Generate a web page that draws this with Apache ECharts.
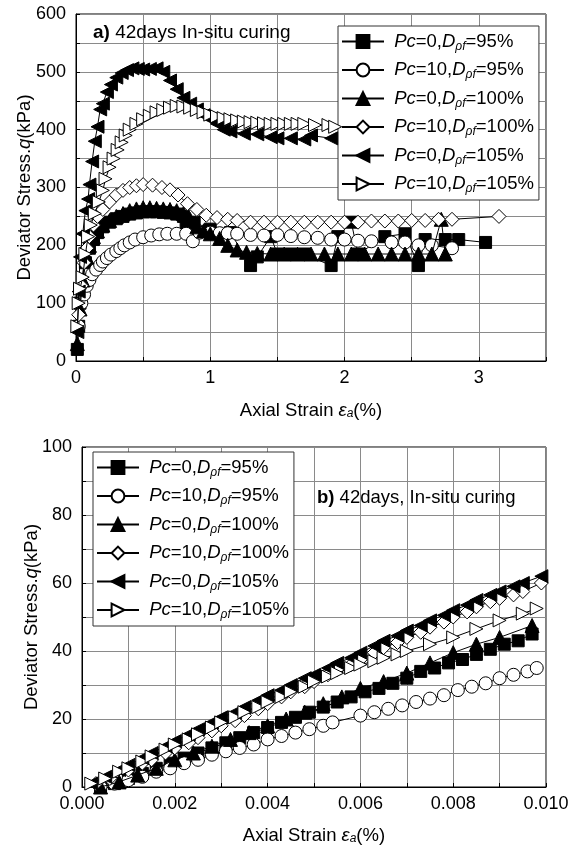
<!DOCTYPE html>
<html><head><meta charset="utf-8">
<script src="https://cdn.jsdelivr.net/npm/echarts@6/dist/echarts.min.js"></script>
<style>html,body{margin:0;padding:0;background:#fff}#c{width:577px;height:849px}</style>
</head><body><div id="c"></div>
<script>
// ---------- labels ----------
const seriesNames = ['Pc=0,D=95%', 'Pc=10,D=95%', 'Pc=0,D=100%', 'Pc=10,D=100%', 'Pc=0,D=105%', 'Pc=10,D=105%'];
const pcValues = ['0', '10', '0', '10', '0', '10'];
const dValues = ['95%', '95%', '100%', '100%', '105%', '105%'];
const titleA = '42days In-situ curing';
const titleB = '42days, In-situ curing';
const yTicksA = [0, 100, 200, 300, 400, 500, 600];
const xTicksA = [0, 1, 2, 3];
const yTicksB = [0, 20, 40, 60, 80, 100];
const xTicksB = ['0.000', '0.002', '0.004', '0.006', '0.008', '0.010'];

// ---------- panel a) : [axial strain %, deviator stress kPa] ----------
const aPc0D95 = [[0.01,20],[0.02,60],[0.03,100],[0.05,140],[0.07,170],[0.1,195],[0.13,210],[0.16,222],[0.2,232],[0.25,240],[0.3,246],[0.35,250],[0.4,254],[0.45,256],[0.5,258],[0.55,258],[0.6,258],[0.65,257],[0.7,256],[0.75,254],[0.8,250],[0.82,235],[0.85,225],[0.88,240],[1.0,228],[1.15,222],[1.3,165],[1.35,180],[1.45,215],[1.5,185],[1.6,185],[1.7,185],[1.9,165],[1.95,215],[2.05,240],[2.1,185],[2.3,215],[2.45,220],[2.55,165],[2.6,210],[2.75,210],[2.85,210],[3.05,205]];
const aPc10D95 = [[0.02,60],[0.04,100],[0.06,115],[0.08,130],[0.1,140],[0.12,150],[0.15,158],[0.18,166],[0.2,172],[0.23,178],[0.26,184],[0.3,190],[0.33,195],[0.36,200],[0.4,205],[0.44,210],[0.5,214],[0.56,217],[0.62,219],[0.68,220],[0.75,220],[0.82,220],[0.87,207],[0.92,222],[1.0,222],[1.07,221],[1.13,221],[1.2,220],[1.3,218],[1.4,217],[1.5,218],[1.6,216],[1.7,214],[1.8,213],[1.9,210],[2.0,210],[2.1,208],[2.2,207],[2.35,205],[2.45,205],[2.55,200],[2.65,200],[2.8,195]];
const aPc0D100 = [[0.01,30],[0.03,90],[0.05,140],[0.08,180],[0.1,200],[0.13,215],[0.16,225],[0.2,235],[0.25,243],[0.3,250],[0.35,255],[0.4,260],[0.45,263],[0.5,265],[0.55,265],[0.6,264],[0.65,263],[0.7,262],[0.75,260],[0.8,255],[0.85,245],[0.9,232],[0.95,225],[1.0,220],[1.07,212],[1.13,200],[1.2,192],[1.27,188],[1.35,186],[1.45,185],[1.55,185],[1.65,185],[1.75,185],[1.85,185],[1.95,185],[2.05,185],[2.15,185],[2.25,185],[2.35,185],[2.45,185],[2.55,185],[2.65,185],[2.72,245],[2.75,185]];
const aPc10D100 = [[0.02,80],[0.04,130],[0.06,170],[0.08,195],[0.1,215],[0.13,235],[0.16,250],[0.2,262],[0.25,275],[0.3,287],[0.35,295],[0.4,300],[0.45,303],[0.5,305],[0.57,304],[0.64,300],[0.7,296],[0.76,287],[0.83,272],[0.9,262],[0.97,252],[1.05,248],[1.13,245],[1.2,243],[1.3,240],[1.4,240],[1.5,240],[1.6,240],[1.7,240],[1.8,240],[1.9,240],[2.0,240],[2.1,240],[2.2,242],[2.3,242],[2.4,242],[2.5,243],[2.6,243],[2.7,245],[2.8,245],[3.15,250]];
const aPc0D105 = [[0.01,50],[0.02,120],[0.03,180],[0.05,220],[0.07,260],[0.09,280],[0.1,305],[0.12,345],[0.14,380],[0.16,405],[0.18,435],[0.2,445],[0.23,465],[0.26,478],[0.3,490],[0.34,498],[0.38,503],[0.42,506],[0.46,505],[0.5,504],[0.55,505],[0.6,506],[0.65,500],[0.7,485],[0.75,470],[0.8,455],[0.85,445],[0.9,435],[0.95,425],[1.0,418],[1.05,410],[1.1,400],[1.15,397],[1.25,393],[1.35,392],[1.45,387],[1.5,385],[1.6,385],[1.7,383],[1.75,390],[1.9,385]];
const aPc10D105 = [[0.01,60],[0.02,100],[0.03,125],[0.05,145],[0.07,185],[0.09,215],[0.11,235],[0.14,255],[0.17,275],[0.2,295],[0.22,315],[0.25,335],[0.28,350],[0.31,365],[0.34,378],[0.37,390],[0.4,400],[0.45,410],[0.5,418],[0.55,424],[0.6,430],[0.65,434],[0.7,438],[0.75,441],[0.8,440],[0.85,438],[0.9,434],[0.95,430],[1.0,426],[1.05,423],[1.1,420],[1.15,418],[1.2,416],[1.25,414],[1.3,413],[1.35,412],[1.4,411],[1.45,410],[1.5,410],[1.55,410],[1.6,410],[1.65,410],[1.7,410],[1.78,408],[1.88,408],[1.93,405]];

// ---------- panel b) : [axial strain %, deviator stress kPa] ----------
const bPc0D95 = [[0.0004,0],[0.0007,1],[0.001,2.5],[0.0013,4],[0.0016,5.5],[0.0019,7],[0.0022,8.5],[0.0025,10],[0.0028,11.5],[0.0031,13],[0.0034,14.5],[0.0037,16],[0.004,17.5],[0.0043,19],[0.0046,20.5],[0.0049,22],[0.0052,23.5],[0.0055,25],[0.0058,26.5],[0.0061,28],[0.0064,29],[0.0067,30.5],[0.007,32],[0.0073,34],[0.0076,35],[0.0079,36.5],[0.0082,37.5],[0.0085,39],[0.0088,40.5],[0.0091,42],[0.0094,43],[0.0097,45]];
const bPc10D95 = [[0.0004,0],[0.0007,1],[0.001,2],[0.0013,3],[0.0016,4.5],[0.0019,5.5],[0.0022,7],[0.0025,8],[0.0028,9.5],[0.0031,10.5],[0.0034,11.5],[0.0037,12.5],[0.004,14],[0.0043,15],[0.0046,16],[0.0049,17],[0.0052,18],[0.0054,19],[0.006,21],[0.0063,22],[0.0066,23],[0.0069,24],[0.0072,25],[0.0075,26],[0.0078,27],[0.0081,28.5],[0.0084,29.5],[0.0087,30.5],[0.009,32],[0.0093,33],[0.0096,34],[0.0098,35]];
const bPc0D100 = [[0.0004,0],[0.0008,1.5],[0.0012,3.5],[0.0016,5.5],[0.002,8],[0.0024,10],[0.0028,12],[0.0032,14],[0.0036,16],[0.004,18],[0.0044,20],[0.0048,22],[0.0052,24.5],[0.0056,26.5],[0.006,29],[0.0065,31],[0.007,33.5],[0.0075,36.5],[0.008,39.5],[0.0085,42],[0.009,44],[0.0097,47.5]];
const bPc10D100 = [[0.0003,1],[0.0006,2.5],[0.001,5],[0.0013,7],[0.0015,8],[0.0018,10],[0.002,11.5],[0.0023,13],[0.0025,14.5],[0.0028,16.5],[0.003,18],[0.0033,19.5],[0.0035,21],[0.0038,23],[0.004,24.5],[0.0043,26.5],[0.0045,28],[0.0048,29.5],[0.005,31],[0.0053,33],[0.0055,34.5],[0.0058,36],[0.006,37.5],[0.0063,39.5],[0.0065,41],[0.0068,42.5],[0.007,44],[0.0073,45.5],[0.0075,47],[0.0078,48.5],[0.008,50],[0.0083,51.5],[0.0085,53],[0.0088,54.5],[0.009,55.5],[0.0093,56.5],[0.0095,57.5],[0.0099,60]];
const bPc0D105 = [[0.0002,1],[0.0005,3],[0.0008,5],[0.001,6.5],[0.0013,8.5],[0.0015,10],[0.0018,12],[0.002,13.5],[0.0023,15.5],[0.0025,17],[0.0028,19],[0.003,20.5],[0.0033,22],[0.0035,23.5],[0.0038,25.5],[0.004,27],[0.0043,28.5],[0.0045,30],[0.0048,32],[0.005,33],[0.0053,35],[0.0055,36.5],[0.0058,38],[0.006,39.5],[0.0063,41.5],[0.0065,43],[0.0068,44.5],[0.007,46],[0.0073,47.5],[0.0075,49],[0.0078,50.5],[0.008,52],[0.0083,53.5],[0.0085,55],[0.0088,56.5],[0.009,57.5],[0.0093,59],[0.0095,60],[0.0099,62]];
const bPc10D105 = [[0.0002,1],[0.0005,2.5],[0.0008,4.5],[0.001,5.5],[0.0013,7.5],[0.0015,9],[0.0018,11],[0.002,12.5],[0.0023,14],[0.0025,15.5],[0.0028,17.5],[0.003,19],[0.0033,20.5],[0.0035,22],[0.0038,23.5],[0.004,25],[0.0043,26.5],[0.0045,28],[0.0048,29.5],[0.005,31],[0.0053,32.5],[0.0055,33.5],[0.0058,35],[0.006,36],[0.0063,37],[0.0065,38],[0.0068,39],[0.007,40],[0.0075,42],[0.008,44],[0.0085,46.5],[0.009,49],[0.0095,51],[0.0098,52.5]];

const panelA = [aPc0D95, aPc10D95, aPc0D100, aPc10D100, aPc0D105, aPc10D105];
const panelB = [bPc0D95, bPc10D95, bPc0D100, bPc10D100, bPc0D105, bPc10D105];

// ---------- styles ----------
const FONT = '"Liberation Sans", Arial, sans-serif';
const symbols = ['rect', 'circle', 'triangle', 'diamond', 'path://M0,5L10,0L10,10Z', 'path://M10,5L0,0L0,10Z'];
const filled = [true, false, true, false, true, false];
const sizes = [12, 13, 14, 14, 13, 13];

function mkSeries(data, i, gi) {
  return {
    type: 'line', name: seriesNames[i], data: data,
    xAxisIndex: gi, yAxisIndex: gi,
    symbol: symbols[i], symbolSize: sizes[i], showAllSymbol: true,
    lineStyle: { color: '#000', width: 1 },
    itemStyle: filled[i] ? { color: '#000', borderColor: '#000', borderWidth: 1 } : { color: '#fff', borderColor: '#000', borderWidth: 1 },
    emphasis: { disabled: true },
    z: 2 + i
  };
}
const series = [];
panelA.forEach((d, i) => series.push(mkSeries(d, i, 0)));
panelB.forEach((d, i) => series.push(mkSeries(d, i, 1)));

const LFS = 18.5;
const richLegend = {
  n: { fontFamily: FONT, fontSize: LFS, color: '#000', lineHeight: 22 },
  i: { fontFamily: FONT, fontSize: LFS, fontStyle: 'italic', color: '#000', lineHeight: 22 },
  s: { fontFamily: FONT, fontSize: 12, fontStyle: 'italic', color: '#000', lineHeight: 10, verticalAlign: 'bottom' }
};
function legendFmt(name) {
  const i = seriesNames.indexOf(name);
  return '{n| }{i|Pc}{n|=' + pcValues[i] + ',}{i|D}{s|ρf}{n|=' + dValues[i] + '}';
}
function mkLegend(left, top, gap) {
  return {
    orient: 'vertical', left: left, top: top,
    data: seriesNames.slice(), formatter: legendFmt,
    itemWidth: 42, itemHeight: 16, itemGap: gap,
    padding: [6, 5, 5, 3],
    backgroundColor: '#fff', borderColor: '#333', borderWidth: 1, borderRadius: 0,
    selectedMode: false,
    textStyle: { fontFamily: FONT, fontSize: LFS, color: '#000', rich: richLegend }
  };
}

const NFS = 18.5;
const axisNameRich = {
  n: { fontFamily: FONT, fontSize: NFS, color: '#000' },
  i: { fontFamily: FONT, fontSize: NFS, fontStyle: 'italic', color: '#000' },
  s: { fontFamily: FONT, fontSize: 12, fontStyle: 'italic', color: '#000', verticalAlign: 'bottom', lineHeight: 12 }
};
const gridLine = { show: true, lineStyle: { color: '#8a8a8a', width: 1 } };
const axisLine = { show: true, lineStyle: { color: '#000', width: 1 } };
const labelStyle = { fontFamily: FONT, fontSize: 18, color: '#000' };
const tick = { show: true, inside: true, length: 4, lineStyle: { color: '#000' } };

const option = {
  animation: false,
  backgroundColor: '#fff',
  grid: [
    { left: 76, top: 14, width: 470, height: 347, show: true, borderColor: '#000', borderWidth: 1, backgroundColor: 'transparent' },
    { left: 82, top: 447, width: 464, height: 340, show: true, borderColor: '#000', borderWidth: 1, backgroundColor: 'transparent' }
  ],
  xAxis: [
    { type: 'value', gridIndex: 0, min: 0, max: 3.5, interval: 0.5,
      axisLine: axisLine, axisTick: tick, splitLine: gridLine,
      axisLabel: Object.assign({ margin: 8, formatter: v => xTicksA.indexOf(v) >= 0 ? String(v) : '' }, labelStyle),
      name: '{n|Axial Strain }{i|ε}{s|a}{n|(%)}', nameLocation: 'middle', nameGap: 40, nameMoveOverlap: false,
      nameTextStyle: { rich: axisNameRich } },
    { type: 'value', gridIndex: 1, min: 0, max: 0.01, interval: 0.001,
      axisLine: axisLine, axisTick: tick, splitLine: gridLine,
      axisLabel: Object.assign({ margin: 8, showMaxLabel: true, formatter: v => { const s = v.toFixed(3); return xTicksB.indexOf(s) >= 0 ? s : ''; } }, labelStyle),
      name: '{n|Axial Strain }{i|ε}{s|a}{n|(%)}', nameLocation: 'middle', nameGap: 39, nameMoveOverlap: false,
      nameTextStyle: { rich: axisNameRich } }
  ],
  yAxis: [
    { type: 'value', gridIndex: 0, min: 0, max: 600, interval: 50,
      axisLine: axisLine, axisTick: tick, splitLine: gridLine,
      axisLabel: Object.assign({ margin: 10, formatter: v => yTicksA.indexOf(v) >= 0 ? String(v) : '' }, labelStyle),
      name: '{n|Deviator Stress.}{i|q}{n|(kPa)}', nameLocation: 'middle', nameGap: 42, nameRotate: 90, nameMoveOverlap: false,
      nameTextStyle: { rich: axisNameRich } },
    { type: 'value', gridIndex: 1, min: 0, max: 100, interval: 10,
      axisLine: axisLine, axisTick: tick, splitLine: gridLine,
      axisLabel: Object.assign({ margin: 10, formatter: v => yTicksB.indexOf(v) >= 0 ? String(v) : '' }, labelStyle),
      name: '{n|Deviator Stress.}{i|q}{n|(kPa)}', nameLocation: 'middle', nameGap: 41, nameRotate: 90, nameMoveOverlap: false,
      nameTextStyle: { rich: axisNameRich } }
  ],
  legend: [mkLegend(338, 26, 8), mkLegend(93, 452, 8)],
  graphic: [
    { type: 'text', left: 93, top: 23, z: 100,
      style: { text: '{b|a)} ' + titleA, fontFamily: FONT, fontSize: 19, fill: '#000',
        rich: { b: { fontFamily: FONT, fontSize: 19, fontWeight: 'bold', fill: '#000' } } } },
    { type: 'text', left: 317, top: 488, z: 100,
      style: { text: '{b|b)} ' + titleB, fontFamily: FONT, fontSize: 18.5, fill: '#000',
        rich: { b: { fontFamily: FONT, fontSize: 18.5, fontWeight: 'bold', fill: '#000' } } } }
  ],
  series: series
};
const chart = echarts.init(document.getElementById('c'), null, { renderer: 'canvas' });
chart.setOption(option);
</script>
</body></html>
